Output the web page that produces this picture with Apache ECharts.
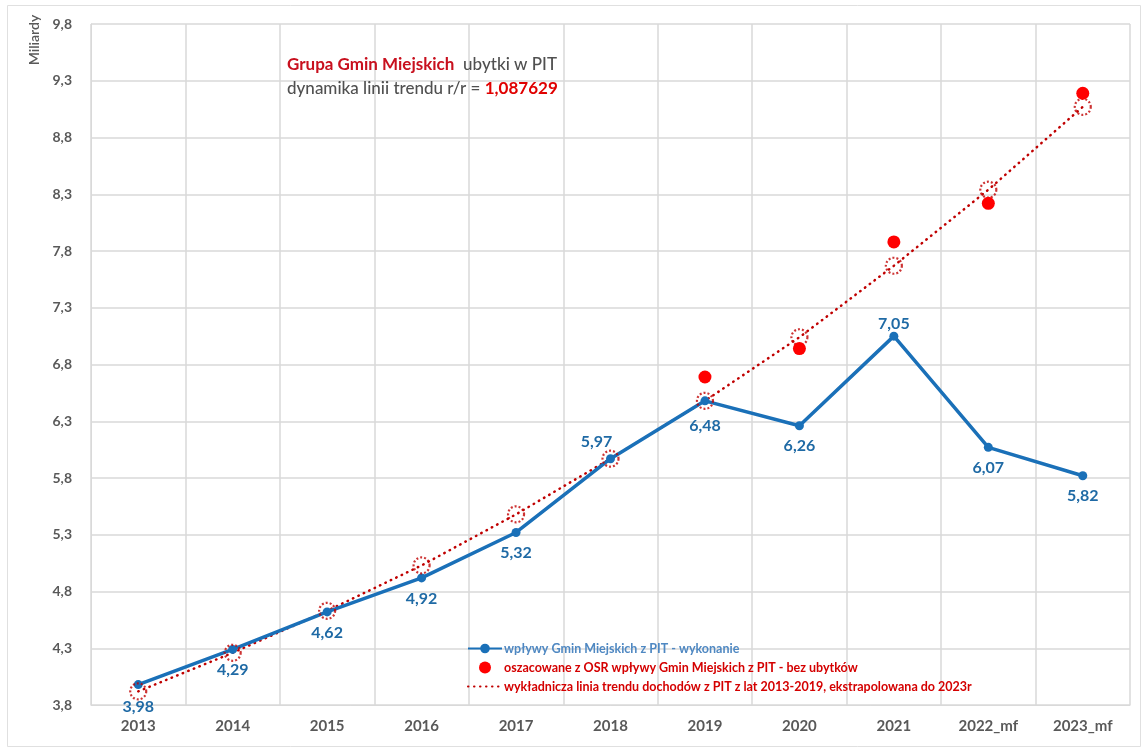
<!DOCTYPE html>
<html>
<head>
<meta charset="utf-8">
<script src="https://cdn.jsdelivr.net/npm/echarts@6/dist/echarts.min.js"></script>
<style>
html,body{margin:0;padding:0;background:#fff;}
#chart{width:1147px;height:753px;}
</style>
</head>
<body>
<div id="chart"></div>
<script>
var categories = ['2013','2014','2015','2016','2017','2018','2019','2020','2021','2022_mf','2023_mf'];
var actualValues = [3.98, 4.29, 4.62, 4.92, 5.32, 5.97, 6.48, 6.26, 7.05, 6.07, 5.82];
var osrValues = [null, null, null, null, null, null, 6.69, 6.94, 7.88, 8.22, 9.19];
var trendValues = [3.92, 4.26, 4.63, 5.03, 5.48, 5.97, 6.48, 7.04, 7.67, 8.34, 9.07];
var yTicks = {min: 3.8, max: 9.8, interval: 0.5};

var seriesNames = [
  'wpływy Gmin Miejskich z PIT - wykonanie',
  'oszacowane z OSR wpływy Gmin Miejskich z PIT - bez ubytków',
  'wykładnicza linia trendu dochodów z PIT z lat 2013-2019, ekstrapolowana do 2023r'
];

var FONT = 'Lato';
var BLUE = '#1a70b8';
var LABEL_BLUE = '#1f6aa5';
var DARK_RED = '#c00000';

// label placement per point (style only)
var labelPlacement = {
  5: {position: 'top', distance: 4, offset: [-14, 0]},
  6: {position: 'bottom', distance: 13},
  8: {position: 'top', distance: 0}
};

var actualData = actualValues.map(function (v, i) {
  var lp = labelPlacement[i] || {position: 'bottom', distance: 8};
  if (i === 0) { lp = {position: 'bottom', distance: 10}; }
  return {value: v, label: lp};
});

var chart = echarts.init(document.getElementById('chart'), null, {renderer: 'canvas'});

var fmt = function (v) { return Number(v).toFixed(2).replace('.', ','); };

chart.setOption({
  backgroundColor: '#ffffff',
  animation: false,
  textStyle: {fontFamily: FONT},
  title: {
    left: 282,
    top: 48,
    padding: 5,
    text: '{r|Grupa Gmin Miejskich}  {g|ubytki w PIT}\n{g|dynamika linii trendu r/r = }{rb|1,087629}',
    textStyle: {
      rich: {
        r: {fontFamily: FONT, fontSize: 17, fontWeight: 'bold', color: '#c8101e', lineHeight: 24},
        g: {fontFamily: FONT, fontSize: 17, fontWeight: 500, color: '#505050', lineHeight: 24},
        rb: {fontFamily: FONT, fontSize: 17, fontWeight: 'bold', color: '#e00000', lineHeight: 24}
      }
    }
  },
  graphic: [
    {
      type: 'rect', silent: true, z: -10,
      shape: {x: 7.5, y: 5.5, width: 1133, height: 741},
      style: {fill: 'none', stroke: '#e0e0e0', lineWidth: 1}
    },
    {
      type: 'text', x: 34, y: 40, rotation: Math.PI / 2, silent: true,
      style: {text: 'Miliardy', fill: '#595959', font: '600 14px ' + FONT, textAlign: 'center', textVerticalAlign: 'middle'}
    }
  ],
  legend: {
    orient: 'vertical',
    left: 462,
    top: 637,
    itemWidth: 34,
    itemHeight: 12,
    itemGap: 6,
    data: [
      {name: seriesNames[0], textStyle: {color: '#4f88c2'}},
      {name: seriesNames[1], textStyle: {color: '#d40000'}},
      {name: seriesNames[2], textStyle: {color: '#d40000'}, itemStyle: {color: 'rgba(0,0,0,0)', borderWidth: 0}}
    ],
    textStyle: {fontFamily: FONT, fontSize: 12.5, fontWeight: 'bold', padding: [0, 0, 0, -3]}
  },
  grid: {left: 91, right: 17, top: 24, bottom: 48, containLabel: false},
  xAxis: {
    type: 'category',
    data: categories,
    boundaryGap: true,
    axisLine: {show: true, lineStyle: {color: '#d9d9d9', width: 1}},
    axisTick: {show: false},
    axisLabel: {color: '#595959', fontFamily: FONT, fontSize: 15, fontWeight: 'bold', margin: 14},
    splitLine: {show: true, lineStyle: {color: '#d9d9d9', width: 1.5}}
  },
  yAxis: {
    type: 'value',
    min: yTicks.min,
    max: yTicks.max,
    interval: yTicks.interval,
    axisLine: {show: true, lineStyle: {color: '#d9d9d9'}},
    axisTick: {show: false},
    axisLabel: {
      color: '#595959', fontFamily: FONT, fontSize: 14, fontWeight: 'bold', margin: 19,
      formatter: function (v) { return Number(v).toFixed(1).replace('.', ','); }
    },
    splitLine: {show: true, lineStyle: {color: '#d9d9d9', width: 1.5}}
  },
  series: [
    {
      name: seriesNames[2],
      type: 'line',
      data: trendValues,
      symbol: 'none',
      z: 3,
      lineStyle: {color: DARK_RED, width: 2.5, type: [0.5, 5.5], cap: 'round'},
      itemStyle: {color: DARK_RED}
    },
    {
      name: seriesNames[0],
      type: 'line',
      data: actualData,
      symbol: 'circle',
      symbolSize: 9,
      z: 4,
      lineStyle: {color: BLUE, width: 3.5},
      itemStyle: {color: BLUE},
      label: {
        show: true,
        color: LABEL_BLUE,
        fontFamily: FONT,
        fontSize: 16,
        fontWeight: 'bold',
        formatter: function (p) { return fmt(p.value); }
      }
    },
    {
      name: 'trend-markers',
      type: 'scatter',
      data: trendValues,
      symbol: 'circle',
      symbolSize: 16,
      z: 5,
      itemStyle: {color: 'rgba(0,0,0,0)', borderColor: DARK_RED, borderWidth: 2.2, borderType: [2, 2]}
    },
    {
      name: seriesNames[1],
      type: 'scatter',
      data: osrValues,
      symbol: 'circle',
      symbolSize: 13,
      z: 6,
      itemStyle: {color: '#ff0000', opacity: 1}
    }
  ]
});
</script>
</body>
</html>
